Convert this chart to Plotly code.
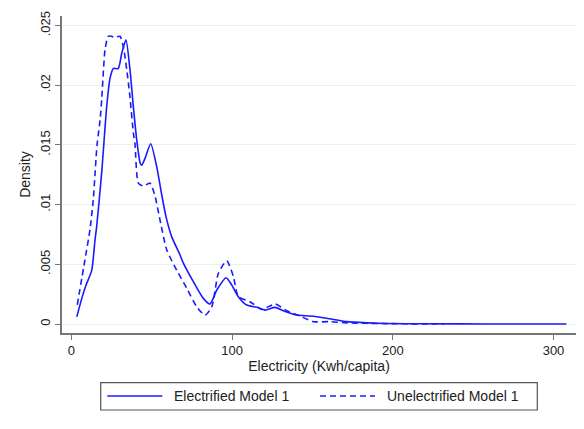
import plotly.graph_objects as go

# Electrified Model 1 (solid)
elec_x = [3.4, 6, 9, 12.7, 14.7, 15.8, 18.9, 22, 24.1, 26.1, 29.2, 31.4, 34, 36.5, 38.6, 40.7,
          42.8, 43.8, 45.9, 49.4, 53.1, 56, 58.9, 62.5, 67.6, 69.7, 75.9, 82.1, 86.3, 90.5,
          96.3, 99.8, 103.9, 109.1, 115.4, 120.5, 126.8, 131.9, 140.3, 148.5, 158.9, 171.4,
          185, 196, 220, 260, 308]
elec_y = [0.0006, 0.0019, 0.0032, 0.0045, 0.0070, 0.0082, 0.0127, 0.0182, 0.0206, 0.0214,
          0.0214, 0.0227, 0.0238, 0.0213, 0.0182, 0.0154, 0.0135, 0.0133, 0.0139, 0.0151,
          0.0132, 0.0110, 0.0090, 0.0073, 0.0058, 0.0051, 0.00355, 0.00215, 0.00168, 0.00285,
          0.00388, 0.00327, 0.00229, 0.00159, 0.0014, 0.00117, 0.0014, 0.00112, 0.00075,
          0.00067, 0.00048, 0.0002, 0.0001, 0.00005, 0.00002, 0.00001, 0.0]

# Unelectrified Model 1 (dashed)
unel_x = [3.7, 8.5, 11.6, 13.7, 16, 17.9, 18.9, 21, 23, 25, 27, 30.3, 32.4, 34.5, 36.5, 38.6,
          39.6, 41.7, 44.8, 49, 52.1, 55.2, 59.4, 65.6, 71.8, 78, 83.2, 87.4, 91.5, 96.7,
          100.8, 103.9, 111.2, 118.5, 126.8, 134, 142.3, 150.6, 161, 171.4, 190, 210, 232]
unel_y = [0.0016, 0.0054, 0.0079, 0.0105, 0.0150, 0.0171, 0.0188, 0.0230, 0.0241, 0.0241,
          0.0240, 0.0241, 0.0232, 0.0213, 0.0190, 0.0160, 0.0151, 0.0118, 0.01156, 0.0118,
          0.0107, 0.0087, 0.0062, 0.0045, 0.0030, 0.00145, 0.00075, 0.00145, 0.00425, 0.0053,
          0.0040, 0.0023, 0.00187, 0.00123, 0.00168, 0.00112, 0.00067, 0.0002, 0.0002, 0.0001,
          0.00005, 0.00002, 0.0]

series_names = ["Electrified Model 1", "Unelectrified Model 1"]
y_ticks = [0, 0.005, 0.01, 0.015, 0.02, 0.025]
y_ticktext = ["0", ".005", ".01", ".015", ".02", ".025"]
x_ticks = [0, 100, 200, 300]

BLUE = "#1a1aff"
DASH = "6px,4px"
FONT = "Liberation Sans, Arial, sans-serif"

fig = go.Figure()
fig.add_trace(go.Scatter(x=elec_x, y=elec_y, mode="lines", name=series_names[0],
                         showlegend=False,
                         line=dict(color=BLUE, width=1.6, shape="spline", smoothing=0.6)))
fig.add_trace(go.Scatter(x=unel_x, y=unel_y, mode="lines", name=series_names[1],
                         showlegend=False,
                         line=dict(color=BLUE, width=1.6, dash=DASH, shape="spline",
                                   smoothing=0.6)))

# Legend (Stata style) built from shapes + annotations in paper coordinates
shapes = [
    dict(type="rect", xref="paper", yref="paper", x0=0.0753, x1=0.9247, y0=-0.2429, y1=-0.1568,
         line=dict(color="#555", width=1.2), fillcolor="white", layer="above"),
    dict(type="line", xref="paper", yref="paper", x0=0.0881, x1=0.1951, y0=-0.1987, y1=-0.1987,
         line=dict(color=BLUE, width=1.6)),
    dict(type="line", xref="paper", yref="paper", x0=0.502, x1=0.609, y0=-0.1987, y1=-0.1987,
         line=dict(color=BLUE, width=1.6, dash=DASH)),
]
annotations = [
    dict(xref="paper", yref="paper", x=0.2134, y=-0.1987, xanchor="left", yanchor="middle",
         text=series_names[0], showarrow=False, font=dict(size=14)),
    dict(xref="paper", yref="paper", x=0.6284, y=-0.1987, xanchor="left", yanchor="middle",
         text=series_names[1], showarrow=False, font=dict(size=14)),
]

# page body has an 8px margin, so the figure is 8px smaller and margins shifted
fig.update_layout(
    width=576, height=421,
    margin=dict(l=54, r=8, t=8, b=96),
    paper_bgcolor="white", plot_bgcolor="white",
    font=dict(family=FONT, size=13, color="#222"),
    showlegend=False,
    shapes=shapes,
    annotations=annotations,
    xaxis=dict(range=[-5.8, 314], tickvals=x_ticks, ticks="outside", ticklen=5,
               tickcolor="#777", showline=True, linecolor="#777", linewidth=1.5,
               showgrid=False, zeroline=False, automargin=False,
               tickfont=dict(size=13),
               title=dict(text="Electricity (Kwh/capita)", standoff=0, font=dict(size=14))),
    yaxis=dict(range=[-0.00075, 0.0258], tickvals=y_ticks, ticktext=y_ticktext,
               tickangle=-90, ticks="outside", ticklen=5, tickcolor="#777",
               showline=True, linecolor="#777", linewidth=1.5, automargin=False,
               tickfont=dict(size=13),
               showgrid=True, gridcolor="#e8f0f2", gridwidth=1, zeroline=False,
               title=dict(text="Density", standoff=4, font=dict(size=14))),
)

fig.write_html("out.html")
